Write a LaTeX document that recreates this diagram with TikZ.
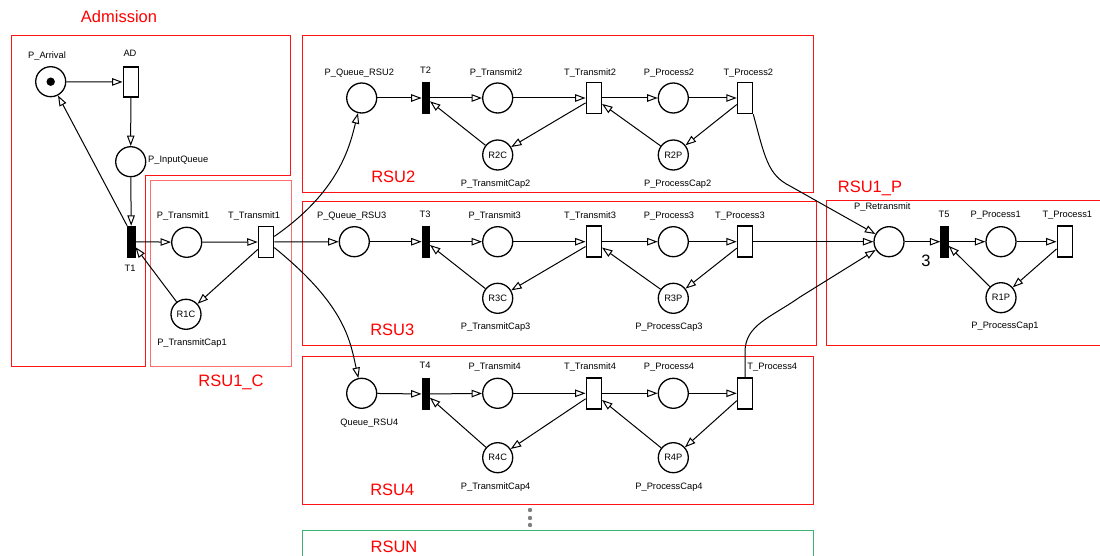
\documentclass[tikz,border=0pt]{standalone}
\usepackage{fontspec}
\setmainfont{Liberation Sans}
\usetikzlibrary{arrows.meta}
\definecolor{grpred}{RGB}{255,20,20}
\definecolor{lightred}{RGB}{255,110,110}
\definecolor{grpgreen}{RGB}{60,179,113}
\begin{document}
\begin{tikzpicture}[x=1pt,y=-1pt,
  place/.style={circle,draw,line width=1.3pt,minimum size=30pt,inner sep=0pt,font=\fontsize{9.3}{11}\selectfont},
  trans/.style={rectangle,draw,line width=1.5pt,minimum width=15pt,minimum height=31pt,inner sep=0pt,fill=white},
  btrans/.style={rectangle,draw,fill=black,line width=0.8pt,minimum width=7.5pt,minimum height=31pt,inner sep=0pt},
  lbl/.style={font=\fontsize{9.3}{11}\selectfont,inner sep=0pt},
  grp/.style={font=\fontsize{16.5}{19}\selectfont,text=red,inner sep=0pt},
  box/.style={draw=grpred,line width=0.9pt},
  arc/.style={draw,line width=1pt,-{Triangle[open,length=10.5pt,width=7.5pt]}},
]
\useasboundingbox (0,0) rectangle (1100,556);

% ---------- group boxes ----------
\draw[box] (11.7,35) -- (290.7,35) -- (290.7,175) -- (145.7,175) -- (145.7,366.7) -- (11.7,366.7) -- cycle;
\draw[draw=lightred,line width=0.9pt] (150,180) rectangle (291,366.7);
\draw[box] (302.7,35) rectangle (813.3,192.3);
\draw[box] (302.7,201.7) rectangle (816,345);
\draw[box] (302.7,356) rectangle (813.3,504.3);
\draw[box] (826,200) rectangle (1110,345.7);
\draw[draw=grpgreen,line width=0.9pt] (302.7,580) -- (302.7,530) -- (813.3,530) -- (813.3,580);

\node[grp] (gAdm) at (119,17) {Admission};
\node[grp] (gR1C) at (231,382) {RSU1\_C};
\node[grp] (gR2) at (393.3,176.7) {RSU2};
\node[grp] (gR3) at (392.3,330) {RSU3};
\node[grp] (gR4) at (392.3,490) {RSU4};
\node[grp] (gRN) at (394,546.7) {RSUN};
\node[grp] (gR1P) at (870,188) {RSU1\_P};

\foreach \yy in {510,518,525} \fill[gray] (530,\yy) circle (2.2pt);

% ---------- Admission + RSU1_C ----------
\node[place] (PA) at (50.7,81.7) {};
\fill (PA.center) circle (4.2pt);
\node[trans,minimum height=30pt] (AD) at (130.8,82) {};
\node[place] (PIQ) at (130.7,161.7) {};
\node[btrans] (T1) at (131.3,241.7) {};
\node[place] (PT1) at (186.7,242.3) {};
\node[trans] (TT1) at (266,242) {};
\node[place] (R1C) at (186,314.3) {R1C};

\node[lbl] (lPA) at (47,56) {P\_Arrival};
\node[lbl] (lAD) at (130,53) {AD};
\node[lbl,anchor=west] (lPIQ) at (148,160) {P\_InputQueue};
\node[lbl] (lT1) at (130,268) {T1};
\node[lbl] (lPT1) at (183,215.7) {P\_Transmit1};
\node[lbl] (lTT1) at (254,215.7) {T\_Transmit1};
\node[lbl] (lR1C) at (192,343) {P\_TransmitCap1};

\draw[arc] (PA) -- (AD);
\draw[arc] (AD) -- (PIQ);
\draw[arc] (PIQ) -- (T1);
\draw[arc] (T1) -- (PT1);
\draw[arc] (PT1) -- (TT1);
\draw[arc] (TT1) -- (R1C);
\draw[arc] (R1C) -- (T1);
\draw[arc] (T1.north west) -- (PA);

% ---------- RSU2 ----------
\node[place] (PQ2) at (361.7,98) {};
\node[btrans] (T2) at (425.8,98) {};
\node[place] (PT2) at (497.7,98) {};
\node[trans] (TT2) at (593.8,98) {};
\node[place] (PP2) at (673.3,98) {};
\node[trans] (TP2) at (745,98) {};
\node[place] (R2C) at (497.7,155) {R2C};
\node[place] (R2P) at (673.3,155) {R2P};

\node[lbl] at (359.3,72.7) {P\_Queue\_RSU2};
\node[lbl] at (425.5,70) {T2};
\node[lbl] at (496,72.7) {P\_Transmit2};
\node[lbl] at (590,72.7) {T\_Transmit2};
\node[lbl] at (669,72.7) {P\_Process2};
\node[lbl] at (748.3,72.7) {T\_Process2};
\node[lbl] at (495.7,184) {P\_TransmitCap2};
\node[lbl] at (677.7,184) {P\_ProcessCap2};

\draw[arc] (PQ2) -- (T2);
\draw[arc] (T2) -- (PT2);
\draw[arc] (PT2) -- (TT2);
\draw[arc] (TT2) -- (PP2);
\draw[arc] (PP2) -- (TP2);
\draw[arc] (TT2) -- (R2C);
\draw[arc] (R2C) -- (T2);
\draw[arc] (TP2) -- (R2P);
\draw[arc] (R2P) -- (TT2);

% ---------- RSU3 ----------
\node[place] (PQ3) at (354.3,241.7) {};
\node[btrans] (T3) at (425.8,241.7) {};
\node[place] (PT3) at (497.7,241.7) {};
\node[trans] (TT3) at (593.8,241.7) {};
\node[place] (PP3) at (673.3,241.7) {};
\node[trans] (TP3) at (745,241.7) {};
\node[place] (R3C) at (497.7,298.3) {R3C};
\node[place] (R3P) at (673.3,298.3) {R3P};

\node[lbl] at (351.7,215.7) {P\_Queue\_RSU3};
\node[lbl] at (425,214) {T3};
\node[lbl] at (494.7,215.7) {P\_Transmit3};
\node[lbl] at (590,215.7) {T\_Transmit3};
\node[lbl] at (669,215.7) {P\_Process3};
\node[lbl] at (740,215.7) {T\_Process3};
\node[lbl] at (495.7,327.3) {P\_TransmitCap3};
\node[lbl] at (669,327.3) {P\_ProcessCap3};

\draw[arc] (PQ3) -- (T3);
\draw[arc] (T3) -- (PT3);
\draw[arc] (PT3) -- (TT3);
\draw[arc] (TT3) -- (PP3);
\draw[arc] (PP3) -- (TP3);
\draw[arc] (TT3) -- (R3C);
\draw[arc] (R3C) -- (T3);
\draw[arc] (TP3) -- (R3P);
\draw[arc] (R3P) -- (TT3);

% ---------- RSU4 ----------
\node[place] (QR4) at (361.7,393.3) {};
\node[btrans] (T4) at (425.7,394) {};
\node[place] (PT4) at (497.7,393.3) {};
\node[trans] (TT4) at (593.8,393.3) {};
\node[place] (PP4) at (673.3,393.3) {};
\node[trans] (TP4) at (745,393.3) {};
\node[place] (R4C) at (497.7,457.7) {R4C};
\node[place] (R4P) at (673.3,457.7) {R4P};

\node[lbl] at (369.3,422.7) {Queue\_RSU4};
\node[lbl] at (425,365) {T4};
\node[lbl] at (494.7,367.3) {P\_Transmit4};
\node[lbl] at (590,367.3) {T\_Transmit4};
\node[lbl] at (669,367.3) {P\_Process4};
\node[lbl] at (772.3,367.3) {T\_Process4};
\node[lbl] at (495.7,487.3) {P\_TransmitCap4};
\node[lbl] at (669,487.3) {P\_ProcessCap4};

\draw[arc] (QR4) -- (T4);
\draw[arc] (T4) -- (PT4);
\draw[arc] (PT4) -- (TT4);
\draw[arc] (TT4) -- (PP4);
\draw[arc] (PP4) -- (TP4);
\draw[arc] (TT4) -- (R4C);
\draw[arc] (R4C) -- (T4);
\draw[arc] (TP4) -- (R4P);
\draw[arc] (R4P) -- (TT4);

% ---------- RSU1_P ----------
\node[place] (PR) at (889,241.7) {};
\node[btrans] (T5) at (944.5,241.7) {};
\node[place] (PP1) at (1001,241.7) {};
\node[trans] (TP1) at (1064.8,241.7) {};
\node[place] (R1P) at (1001,297.7) {R1P};

\node[lbl] at (882.3,207.3) {P\_Retransmit};
\node[lbl] at (944,214) {T5};
\node[lbl] at (995.7,215.7) {P\_Process1};
\node[lbl] at (1067.3,215.7) {T\_Process1};
\node[lbl] at (1005,326.7) {P\_ProcessCap1};
\node[font=\fontsize{16.5}{19}\selectfont,inner sep=0pt] (w3) at (926,261) {3};

\draw[arc] (PR) -- (T5);
\draw[arc] (T5) -- (PP1);
\draw[arc] (PP1) -- (TP1);
\draw[arc] (TP1) -- (R1P);
\draw[arc] (R1P) -- (T5);

% ---------- inter-group connectors ----------
\draw[arc] (TT1) -- (PQ3);
\draw[arc] (TT1.34) .. controls (340,191) and (350,145) .. (PQ2);
\draw[arc] (TT1.-34) .. controls (345,305) and (350,340) .. (QR4);
\draw[arc] (TP3) -- (PR);
\draw[arc] (TP2.south east) .. controls (765,158) and (768,175) .. (790,186) -- (PR);
\draw[arc] (TP4.north) -- (745,352) .. controls (745,325) and (770,318) .. (800,297) -- (PR);

\end{tikzpicture}
\end{document}
